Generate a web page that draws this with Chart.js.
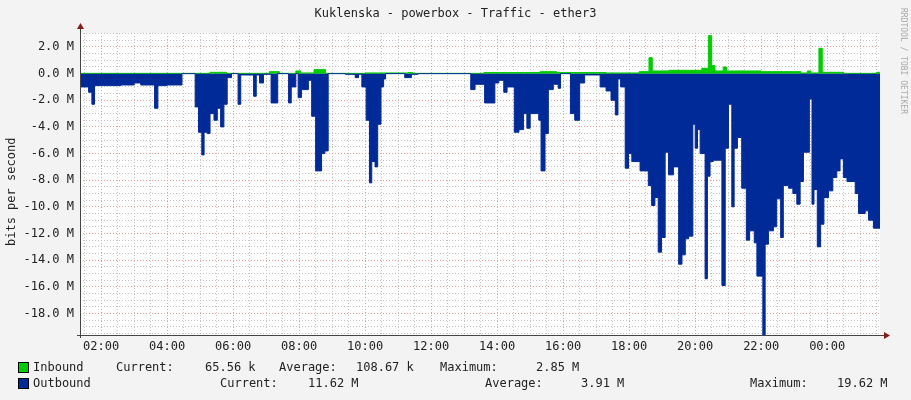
<!DOCTYPE html>
<html>
<head>
<meta charset="utf-8">
<script src="https://cdn.jsdelivr.net/npm/chart.js@4"></script>
<style>
  body { margin: 0; background: #f3f3f3; font-family: "DejaVu Sans Mono", monospace; }
  #wrap { position: relative; width: 911px; height: 400px; }
  #title { position: absolute; top: 6px; left: 0; width: 911px; text-align: center; font-size: 12px; color: #222; }
  #ylab { position: absolute; font-size: 12px; color: #222; transform: rotate(-90deg); transform-origin: 0 0; white-space: nowrap; left: 4px; top: 246px; }
  #rrd { position: absolute; left: 899px; top: 8px; font-size: 8px; color: #aaa; writing-mode: vertical-rl; }
  .t { position: absolute; font-size: 12px; color: #222; white-space: pre; }
  .sw { position: absolute; left: 18px; width: 9px; height: 9px; border: 1px solid #000; }
</style>
</head>
<body>
<div id="wrap">
  <canvas id="c" width="911" height="400"></canvas>
  <div id="title">Kuklenska - powerbox - Traffic - ether3</div>
  <div id="ylab">bits per second</div>
  <div id="rrd">RRDTOOL / TOBI OETIKER</div>
  <div class="sw" style="top:362px;background:#00cc00"></div>
  <div class="t" style="top:360px;left:33px">Inbound</div>
  <div class="t" style="top:360px;left:116px">Current:</div>
  <div class="t" style="top:360px;left:205px">65.56 k</div>
  <div class="t" style="top:360px;left:279px">Average:</div>
  <div class="t" style="top:360px;left:356px">108.67 k</div>
  <div class="t" style="top:360px;left:440px">Maximum:</div>
  <div class="t" style="top:360px;left:536px">2.85 M</div>
  <div class="sw" style="top:378px;background:#002a97"></div>
  <div class="t" style="top:376px;left:33px">Outbound</div>
  <div class="t" style="top:376px;left:220px">Current:</div>
  <div class="t" style="top:376px;left:308px">11.62 M</div>
  <div class="t" style="top:376px;left:485px">Average:</div>
  <div class="t" style="top:376px;left:581px">3.91 M</div>
  <div class="t" style="top:376px;left:750px">Maximum:</div>
  <div class="t" style="top:376px;left:837px">19.62 M</div>
</div>
<script>
// hours since midnight of first day, values in M bits/s
const outTimes = [1.36, 1.62, 1.72, 1.8, 2.6, 3.0, 3.2, 3.62, 3.72, 4.0, 4.45, 4.85, 4.95, 5.05, 5.12, 5.22, 5.3, 5.42, 5.52, 5.62, 5.72, 5.82, 5.95, 6.15, 6.23, 6.62, 6.7, 6.8, 6.92, 7.15, 7.35, 7.68, 7.76, 7.9, 7.97, 8.07, 8.28, 8.38, 8.5, 8.68, 8.78, 8.88, 9.4, 9.7, 9.8, 9.9, 10.03, 10.13, 10.2, 10.3, 10.38, 10.48, 10.56, 10.62, 11.2, 11.4, 11.6, 13.2, 13.33, 13.62, 13.93, 14.05, 14.2, 14.3, 14.52, 14.66, 14.8, 14.9, 15.0, 15.26, 15.33, 15.45, 15.55, 15.7, 15.85, 15.92, 16.22, 16.35, 16.5, 16.65, 17.12, 17.3, 17.45, 17.58, 17.66, 17.74, 17.88, 17.98, 18.08, 18.33, 18.58, 18.68, 18.78, 18.88, 18.98, 19.09, 19.19, 19.34, 19.5, 19.6, 19.7, 19.8, 19.93, 20.0, 20.07, 20.15, 20.3, 20.37, 20.45, 20.55, 20.81, 20.91, 21.01, 21.11, 21.18, 21.28, 21.41, 21.55, 21.65, 21.79, 21.87, 22.05, 22.12, 22.22, 22.37, 22.47, 22.59, 22.67, 22.83, 22.96, 23.08, 23.18, 23.28, 23.46, 23.54, 23.6, 23.7, 23.8, 23.9, 24.04, 24.17, 24.29, 24.39, 24.49, 24.6, 24.85, 24.95, 25.15, 25.25, 25.4, 25.6];
const outValues = [-1.0, -1.4, -2.3, -0.9, -0.85, -0.7, -0.85, -2.6, -0.9, -0.85, 0, -2.5, -4.4, -6.1, -4.4, -4.5, -3.0, -3.5, -2.6, -4.0, -2.3, -0.3, 0, -2.3, -0.1, -1.7, -0.1, -0.7, -0.05, -2.2, 0, -2.2, -1.0, 0, -1.8, -1.2, -0.5, -3.2, -7.3, -6.0, -5.8, 0, -0.05, -0.3, -0.05, -1.0, -3.5, -8.2, -6.6, -7.0, -3.8, -1.0, -0.4, 0, -0.3, -0.05, 0, -1.2, -0.8, -2.2, -0.7, -0.5, -1.4, -1.0, -4.4, -4.2, -3.0, -4.1, -3.0, -3.5, -7.3, -4.5, -1.2, -0.8, -1.1, 0, -3.0, -3.5, -0.7, -0.1, -1.0, -1.3, -2.0, -3.1, -0.4, -1.0, -7.1, -6.0, -6.6, -7.3, -8.4, -9.9, -9.3, -13.4, -12.3, -5.9, -7.6, -7.0, -14.3, -13.6, -12.4, -12.2, -3.8, -5.6, -4.2, -6.0, -15.4, -7.7, -6.6, -6.5, -15.9, -5.6, -2.3, -10.0, -5.6, -4.8, -8.6, -12.5, -11.8, -12.7, -15.2, -19.62, -12.8, -11.8, -11.5, -9.4, -12.3, -8.4, -8.6, -9.0, -9.8, -8.1, -5.9, -1.9, -9.8, -8.7, -13.0, -11.3, -9.3, -8.8, -7.8, -7.3, -6.4, -7.8, -8.1, -9.0, -10.5, -10.3, -11.0, -11.6, -11.6];
const inTimes = [1.36, 5.3, 5.8, 7.1, 7.4, 7.9, 8.05, 8.45, 8.8, 10.0, 11.3, 11.45, 13.6, 14.1, 14.8, 15.3, 15.8, 16.3, 17.3, 18.3, 18.6, 18.7, 19.2, 20.2, 20.4, 20.5, 20.6, 20.85, 20.95, 22.0, 23.2, 23.4, 23.5, 23.75, 23.85, 24.1, 24.5, 25.5, 25.6];
const inValues = [0.02, 0.1, 0.02, 0.15, 0.02, 0.2, 0.05, 0.3, 0.02, 0.05, 0.08, 0.02, 0.08, 0.08, 0.08, 0.15, 0.08, 0.08, 0.05, 0.15, 1.2, 0.2, 0.25, 0.4, 2.85, 0.6, 0.2, 0.5, 0.2, 0.15, 0.05, 0.2, 0.05, 1.9, 0.1, 0.1, 0.02, 0.1, 0.1];
const xMin = 1.36, xMax = 25.6;
const yMin = -19.62, yMax = 3.05;

const pts = (t, v) => t.map((x, i) => ({ x: x, y: v[i] }));
const fmtHour = (h) => String(Math.round(h) % 24).padStart(2, "0") + ":00";
const isMajor = (v, step) => Math.abs(v / step - Math.round(v / step)) < 1e-6;
const gridColor = (c) => (isMajor(c.tick.value, 2) ? "rgba(235,140,140,0.85)" : "rgba(190,190,190,0.9)");

const arrows = {
  id: "arrows",
  afterDraw(chart) {
    const { ctx, chartArea: a } = chart;
    ctx.save();
    ctx.strokeStyle = "#444";
    ctx.lineWidth = 1;
    ctx.beginPath();
    ctx.moveTo(a.left + 0.5, a.top - 4); ctx.lineTo(a.left + 0.5, a.bottom + 3);
    ctx.moveTo(a.left - 3, a.bottom + 0.5); ctx.lineTo(a.right + 4, a.bottom + 0.5);
    ctx.stroke();
    ctx.fillStyle = "#8b1a1a";
    ctx.beginPath();
    ctx.moveTo(a.left - 3, a.top - 4); ctx.lineTo(a.left + 4, a.top - 4); ctx.lineTo(a.left + 0.5, a.top - 10); ctx.fill();
    ctx.beginPath();
    ctx.moveTo(a.right + 4, a.bottom - 3); ctx.lineTo(a.right + 4, a.bottom + 4); ctx.lineTo(a.right + 10, a.bottom + 0.5); ctx.fill();
    ctx.restore();
  },
};
const plotBg = {
  id: "plotBg",
  beforeDraw(chart) {
    const { ctx, chartArea: a } = chart;
    ctx.save();
    ctx.fillStyle = "#ffffff";
    ctx.fillRect(a.left, a.top, a.right - a.left, a.bottom - a.top);
    ctx.restore();
  },
};

new Chart(document.getElementById("c"), {
  type: "line",
  data: {
    datasets: [
      { label: "Outbound", data: pts(outTimes, outValues), stepped: "before", fill: "origin",
        backgroundColor: "#002a97", borderColor: "#002a97", borderWidth: 1, pointRadius: 0 },
      { label: "Inbound", data: pts(inTimes, inValues), stepped: "before", fill: "origin",
        backgroundColor: "#00cc00", borderColor: "#00cc00", borderWidth: 1, pointRadius: 0 },
    ],
  },
  options: {
    responsive: false,
    animation: false,
    layout: { padding: { top: 33, right: 31, left: 0, bottom: 0 } },
    plugins: { legend: { display: false }, tooltip: { enabled: false } },
    scales: {
      x: {
        type: "linear", min: xMin, max: xMax,
        afterBuildTicks: (s) => {
          const t = [];
          for (let h = 1.5; h <= xMax; h += 0.5) t.push({ value: h });
          s.ticks = t;
        },
        afterFit: (s) => { s.height = 65; },
        border: { display: false, dash: [1, 2] },
        grid: { drawTicks: false, color: gridColor },
        ticks: {
          autoSkip: false, maxRotation: 0, padding: 5, color: "#222",
          font: { family: "DejaVu Sans Mono", size: 12 },
          callback: (v) => (isMajor(v, 2) ? fmtHour(v) : ""),
        },
      },
      y: {
        min: yMin, max: yMax,
        afterBuildTicks: (s) => {
          const t = [];
          for (let v = -19.5; v <= 3; v += 0.5) t.push({ value: v });
          s.ticks = t;
        },
        afterFit: (s) => { s.width = 80; },
        border: { display: false, dash: [1, 2] },
        grid: { drawTicks: false, color: gridColor },
        ticks: {
          autoSkip: false, padding: 6, color: "#222",
          font: { family: "DejaVu Sans Mono", size: 12 },
          callback: (v) => (isMajor(v, 2) && v > -19 && v < 3 ? v.toFixed(1) + " M" : ""),
        },
      },
    },
  },
  plugins: [plotBg, arrows],
});
</script>
</body>
</html>
